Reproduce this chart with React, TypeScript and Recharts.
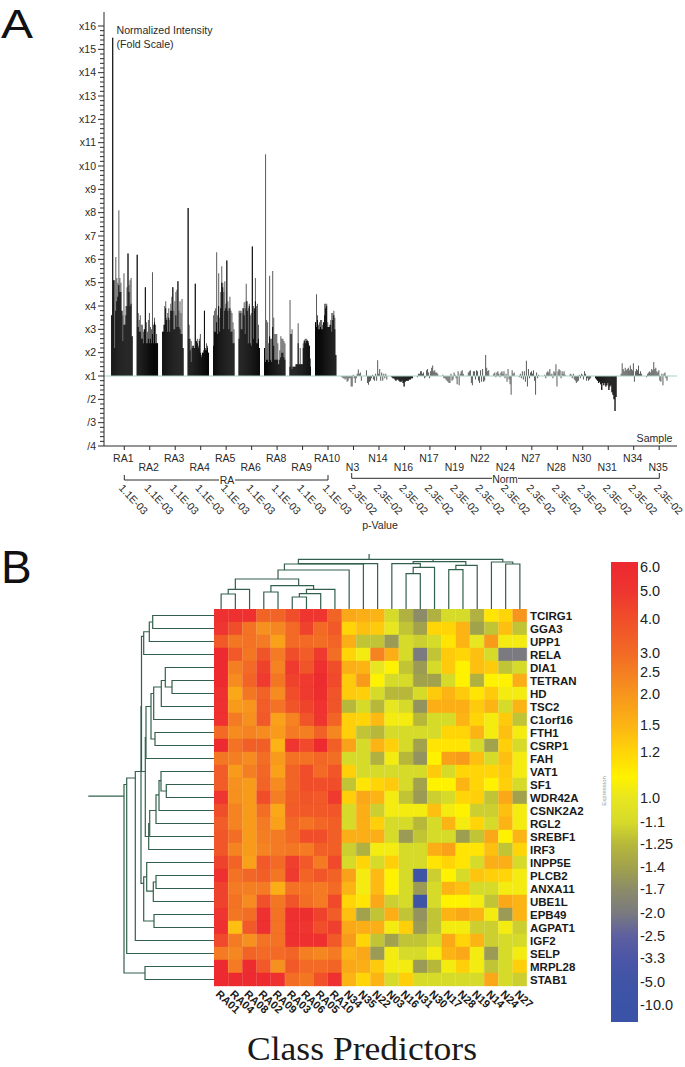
import React from 'react';
import {
  Bar,
  BarChart,
  Cell,
  ReferenceLine,
  Scatter,
  ScatterChart,
  XAxis,
  YAxis,
} from 'recharts';

// Panel A: fold change per sample, 21 probes each
const sampleLabels = ['RA1', 'RA2', 'RA3', 'RA4', 'RA5', 'RA6', 'RA8', 'RA9', 'RA10', 'N3', 'N14', 'N16', 'N17', 'N19', 'N22', 'N24', 'N27', 'N28', 'N30', 'N31', 'N34', 'N35'];
const samplePValues = ['1.1E-03', '1.1E-03', '1.1E-03', '1.1E-03', '1.1E-03', '1.1E-03', '1.1E-03', '1.1E-03', '1.1E-03', '2.3E-02', '2.3E-02', '2.3E-02', '2.3E-02', '2.3E-02', '2.3E-02', '2.3E-02', '2.3E-02', '2.3E-02', '2.3E-02', '2.3E-02', '2.3E-02', '2.3E-02'];
const heavySamples = ['N16', 'N31'];

// top of the black part of each RA bar
const solidLevels = [
  [3.6, 15.5, 5.1, 2.2, 3.8, 4.2, 4.4, 4.9, 4.6, 4.6, 3.8, 2.5, 3.2, 3.2, 3.6, 4.0, 6.25, 4.6, 4.0, 4.1, 2.7],
  [6.2, 3.1, 2.9, 2.9, 2.6, 2.6, 2.4, 3.0, 4.8, 2.4, 2.4, 2.6, 2.4, 2.6, 2.4, 2.8, 2.4, 3.3, 2.4, 2.4, 2.4],
  [2.9, 2.9, 3.2, 3.9, 3.4, 2.9, 3.5, 2.9, 3.8, 3.8, 4.8, 3.0, 3.0, 3.6, 3.1, 5.06, 3.1, 3.0, 2.8, 2.8, 2.2],
  [8.2, 2.6, 2.1, 1.6, 2.2, 2.3, 2.2, 4.95, 2.5, 2.4, 2.2, 2.5, 2.0, 1.8, 2.0, 2.0, 3.8, 2.1, 2.1, 2.2, 2.0],
  [2.3, 2.9, 2.9, 3.3, 2.8, 4.0, 2.9, 3.9, 5.0, 4.8, 3.0, 3.8, 3.9, 5.95, 3.8, 3.0, 3.9, 2.9, 2.9, 2.4, 2.4],
  [2.6, 3.7, 3.0, 3.0, 3.9, 3.6, 2.8, 4.2, 3.8, 2.4, 4.0, 2.4, 2.3, 6.55, 2.6, 3.9, 4.2, 2.4, 2.4, 2.6, 2.2],
  [2.2, 1.6, 1.7, 1.7, 1.6, 2.7, 1.7, 1.6, 3.1, 2.3, 1.7, 1.7, 1.7, 1.7, 1.5, 1.7, 1.8, 2.0, 2.0, 1.8, 1.7],
  [1.4, 2.8, 1.3, 1.4, 1.4, 1.4, 1.5, 1.5, 2.4, 1.5, 1.5, 1.5, 1.5, 2.2, 2.5, 2.4, 2.5, 2.5, 2.4, 2.3, 1.4],
  [3.3, 3.1, 3.4, 3.0, 3.0, 3.1, 3.0, 3.0, 3.3, 3.6, 3.9, 4.0, 3.1, 3.1, 3.1, 3.2, 2.9, 3.4, 3.6, 3.0, 1.9],
];

// full height of every bar, negative means "/n" below x1
const peakLevels = [
  [3.6, 15.5, 5.1, 5.1, 6.1, 5.2, 5.0, 8.1, 5.2, 5.0, 3.8, 3.6, 5.4, 3.2, 4.0, 4.8, 6.25, 4.9, 5.1, 5.2, 2.7],
  [6.2, 3.7, 3.4, 3.6, 3.2, 3.2, 2.9, 3.0, 4.8, 3.3, 2.9, 3.4, 3.7, 3.1, 3.0, 5.45, 3.2, 3.5, 3.2, 2.8, 2.4],
  [2.9, 3.2, 4.0, 4.2, 3.5, 3.7, 3.9, 3.4, 4.1, 4.4, 4.8, 3.8, 4.2, 4.6, 4.7, 5.06, 3.8, 4.2, 3.7, 4.3, 2.2],
  [8.2, 3.2, 2.6, 2.5, 2.3, 2.3, 2.2, 4.95, 2.5, 2.6, 2.3, 2.6, 2.8, 1.9, 2.0, 2.1, 3.8, 2.2, 2.4, 2.3, 2.0],
  [3.6, 3.8, 3.9, 6.3, 3.6, 5.4, 3.5, 4.6, 5.7, 5.0, 4.6, 5.06, 4.1, 5.95, 4.2, 3.9, 4.4, 3.8, 3.7, 3.3, 3.0],
  [3.8, 3.8, 3.8, 3.7, 3.9, 4.16, 3.9, 4.95, 4.2, 3.9, 4.1, 3.6, 3.7, 6.55, 4.0, 3.8, 5.2, 4.0, 4.1, 3.2, 2.2],
  [2.2, 10.5, 3.4, 3.3, 2.4, 5.3, 2.6, 2.6, 5.5, 3.5, 2.8, 2.8, 2.8, 2.4, 1.5, 2.1, 2.7, 2.6, 2.6, 2.5, 2.4],
  [4.26, 2.8, 3.0, 1.4, 1.4, 1.4, 1.5, 1.5, 3.26, 1.5, 2.2, 1.5, 1.5, 2.4, 2.55, 2.6, 2.6, 2.55, 2.5, 2.3, 1.75],
  [3.3, 4.5, 3.6, 3.2, 3.3, 3.4, 3.4, 3.2, 3.3, 4.1, 4.1, 4.1, 3.3, 3.1, 3.2, 3.4, 3.7, 3.7, 3.8, 3.5, 1.9],
  [1.0, -1.05, -1.1, -1.1, -1.15, -1.1, -1.25, -1.2, -1.1, -1.1, -1.45, -1.45, 1.05, -1.1, -1.3, -1.1, 1.1, 1.28, 1.1, 1.15, -1.2],
  [1.25, -1.3, -1.38, -1.25, -1.2, -1.1, 1.05, -1.15, -1.2, 1.1, -1.2, 1.67, 1.1, 1.3, -1.2, 1.15, -1.2, 1.1, -1.1, 1.1, -1.15],
  [-1.05, -1.1, -1.1, -1.15, -1.2, -1.15, -1.15, -1.2, -1.25, -1.25, -1.2, -1.3, -1.45, -1.25, -1.2, -1.2, -1.2, -1.15, -1.15, -1.1, -1.1],
  [-1.05, 1.1, 1.1, 1.2, 1.2, 1.1, 1.15, -1.1, -1.05, 1.25, 1.3, 1.15, -1.1, 1.2, 1.35, 1.45, 1.2, 1.25, 1.15, 1.15, 1.1],
  [1.05, -1.1, -1.1, -1.15, -1.2, -1.25, -1.3, -1.3, 1.1, -1.2, -1.15, 1.15, 1.05, -1.1, -1.35, 1.2, -1.4, 1.1, 1.2, 1.25, 1.1],
  [1.15, 1.2, 1.25, -1.3, -1.4, 1.2, 1.2, -1.15, 1.25, 1.2, -1.2, -1.3, 1.25, -1.25, 1.3, -1.25, -1.2, 1.9, 1.35, 1.2, 1.25],
  [1.1, 1.15, -1.05, 1.15, 1.2, 1.1, -1.05, 1.15, 1.2, 1.1, 1.2, -1.1, 1.1, -1.25, 1.3, -1.15, -1.35, -1.8, 1.25, 1.1, 1.15],
  [-1.05, 1.1, -1.1, 1.2, -1.15, 1.2, -1.25, 1.65, -1.45, 1.3, -1.1, 1.15, 1.2, 1.1, 1.25, -1.2, -1.8, 1.15, -1.1, 1.05, 1.0],
  [1.05, -1.1, 1.15, 1.2, 1.15, 1.3, 1.05, 1.1, -1.1, 1.2, 1.15, 1.5, -1.45, 1.2, 1.3, 1.25, -1.1, 1.2, 1.1, 1.2, 1.05],
  [1.1, 1.05, -1.1, 1.1, -1.15, -1.2, -1.3, -1.25, -1.2, 1.05, -1.1, 1.1, 1.05, -1.15, 1.2, 1.1, -1.2, -1.1, -1.2, -1.15, -1.1],
  [-1.1, -1.15, -1.2, -1.3, -1.25, -1.35, -1.6, -1.3, -1.4, -1.3, -1.45, -1.4, -1.3, -1.6, -1.45, -1.4, -1.7, -1.8, -2.0, -2.5, -1.9],
  [1.1, 1.55, 1.3, 1.2, 1.35, 1.25, 1.3, 1.35, 1.25, 1.45, 1.3, 1.25, 1.55, -1.25, 1.2, 1.3, 1.25, 1.45, 1.1, 1.2, 1.1],
  [-1.05, 1.1, 1.15, 1.2, 1.15, 1.3, 1.25, 1.6, 1.3, 1.35, 1.2, 1.15, 1.25, -1.2, -1.25, 1.1, -1.4, 1.1, 1.15, -1.1, -1.2],
];

// Panel B: heat map, one list per gene in column order
const geneLabels = ['TCIRG1', 'GGA3', 'UPP1', 'RELA', 'DIA1', 'TETRAN', 'HD', 'TSC2', 'C1orf16', 'FTH1', 'CSRP1', 'FAH', 'VAT1', 'SF1', 'WDR42A', 'CSNK2A2', 'RGL2', 'SREBF1', 'IRF3', 'INPP5E', 'PLCB2', 'ANXA11', 'UBE1L', 'EPB49', 'AGPAT1', 'IGF2', 'SELP', 'MRPL28', 'STAB1'];
const columnLabels = ['RA01', 'RA04', 'RA08', 'RA02', 'RA09', 'RA03', 'RA06', 'RA05', 'RA10', 'N34', 'N35', 'N22', 'N03', 'N16', 'N31', 'N30', 'N17', 'N28', 'N19', 'N14', 'N24', 'N27'];
const expression = [
  [5.5, 5.5, 5.5, 3.2, 3.2, 4, 5, 5, 3.2, 1.7, 1.6, 1.5, -1.1, -1.3, -1.7, -1.3, -1.1, -1.1, -1.3, 1.15, 1.2, 2.0],
  [5, 4, 2.8, 2.1, 2.3, 3, 4.5, 3, 3.6, 1.2, 1.4, 1.3, 1.0, -1.2, -1.4, 1.2, 1.2, 1.5, -1.4, -1.2, 1.4, -1.2],
  [3.6, 2.7, 2.8, 2.6, 1.8, 3, 3, 2.9, 3.2, 1.6, -1.2, -1.2, -1.5, -1.05, -1.15, -1.05, 1.15, 1.5, 1.0, 1.9, 1.05, 1.05],
  [6, 3.6, 2.7, 3.8, 2.6, 4, 3.5, 4.8, 2.9, 1.2, 1.05, 2.4, 1.6, -1.05, -2.0, -1.2, 1.3, 1.2, 1.4, -1.05, -2.0, -2.0],
  [6, 2.5, 3, 4.5, 2.4, 4.8, 3.8, 5.5, 4, 1.6, 1.5, 1.0, 1.1, -1.2, -1.5, -1.05, 1.3, 1.1, 1.4, 1.3, -1.2, -1.05],
  [6, 2.2, 3.2, 4.8, 2.7, 4.5, 4.8, 5.8, 4.2, 1.3, 1.9, 1.1, -1.05, -1.05, -1.4, -1.4, -1.05, 1.1, -1.3, 1.1, 1.1, 1.6],
  [5.5, 1.7, 2.7, 3.3, 2.2, 4, 4.8, 5.6, 3.8, 1.3, 1.25, -1.05, -1.25, -1.25, -1.05, 1.3, 1.5, 1.3, 1.15, 1.3, 1.05, 1.05],
  [5.5, 1.9, 2.0, 3.5, 2.8, 3.8, 4.4, 5.2, 3.8, -1.25, -1.05, -1.25, 1.0, -1.05, -1.6, 1.6, 1.6, 1.6, 1.3, 1.5, -1.05, 1.5],
  [5.5, 2.6, 2.1, 3.6, 1.8, 2.4, 3.8, 5, 3.2, 1.25, 1.2, 1.45, 1.05, 1.05, -1.25, -1.05, -1.05, 1.5, 1.2, 1.05, 1.3, -1.2],
  [3, 2.2, 2.4, 2.2, 1.9, 2.6, 2.5, 3.3, 2.3, 1.25, -1.2, -1.25, -1.05, -1.1, -1.1, -1.05, 1.2, 1.2, 1.5, 1.05, 1.4, 1.05],
  [6, 2.8, 3.4, 3.4, 1.5, 5, 4.2, 6, 3.4, 1.8, -1.05, 1.5, 1.25, -1.05, -1.4, 1.15, 1.15, 1.15, -1.05, -1.4, 1.25, -1.05],
  [2.7, 2.5, 2.2, 2.9, 1.9, 2.8, 2.8, 3.1, 2.9, -1.05, -1.05, -1.3, 1.05, -1.25, -1.6, 1.1, 1.8, 1.9, 1.4, -1.05, 1.4, 1.05],
  [3.5, 1.9, 2.5, 3.1, 1.8, 3.2, 4, 3, 3.7, 1.25, -1.05, -1.05, -1.05, -1.05, -1.05, 1.3, -1.05, 1.2, 1.2, 1.2, 1.3, 1.05],
  [3.5, 2.1, 1.9, 3.2, 2.2, 3.2, 4, 4, 4, -1.2, 1.15, 1.2, 1.3, -1.05, -1.4, 1.1, 1.1, 1.5, 1.2, 1.1, 1.25, -1.05],
  [5, 2.1, 1.9, 4, 2.5, 3.4, 3.8, 3.6, 4.8, 1.25, 1.7, 1.5, 1.05, -1.2, -1.5, -1.15, -1.05, 1.2, 1.25, -1.2, 1.7, -1.4],
  [4, 2.4, 1.9, 2.9, 1.7, 3.5, 3.6, 3.6, 3.7, -1.05, 1.6, -1.15, 1.05, 1.05, 1.05, 1.4, 1.05, 1.1, -1.15, -1.15, 1.4, 1.05],
  [3.5, 2.4, 1.9, 2.6, 1.8, 3.1, 2.8, 3.1, 3.4, -1.05, 1.6, 1.25, -1.05, -1.05, -1.25, -1.05, 1.5, 1.05, 1.2, -1.05, 1.5, 1.05],
  [3.7, 2.9, 1.9, 2.5, 2.6, 3, 4, 4, 3.4, 1.6, 1.6, 1.6, -1.05, -1.5, -1.2, -1.05, -1.05, -1.45, -1.2, 1.7, 1.1, 1.5],
  [3.7, 2.4, 1.9, 2.4, 2.6, 2.7, 2.6, 3.4, 3.4, -1.15, -1.3, 1.05, 1.05, -1.1, -1.1, 1.6, 1.8, 1.15, 1.15, 1.4, -1.2, 1.2],
  [4.5, 3.2, 1.8, 3.6, 3, 4.6, 3.6, 2.6, 4.2, -1.1, 1.2, -1.1, 1.25, -1.05, -1.05, 1.15, 1.2, 1.15, -1.1, 1.6, 1.6, -1.1],
  [5.5, 2.8, 3.1, 3.4, 2.7, 4.8, 3.2, 3.7, 3.3, 1.8, 1.05, 1.45, 1.1, -1.1, -5, -1.15, 1.1, -1.1, 1.35, 1.25, 1.2, 1.05],
  [4.5, 2.6, 2.5, 2.6, 1.6, 2.8, 2.8, 2.6, 3, 1.5, 1.05, 1.45, 1.1, -1.1, -1.5, -1.05, 1.5, 1.4, -1.05, -1.05, 1.05, 1.05],
  [4.5, 2.8, 2.2, 3.9, 2.7, 3.8, 2.9, 2.6, 4.2, 1.2, 1.15, 1.7, -1.15, -1.05, -5, -1.05, 1.1, 1.1, 1.05, -1.2, 1.7, 1.5],
  [5, 2.7, 2.9, 5.5, 2.8, 5.5, 5.6, 4.5, 3.5, 1.4, -1.4, -1.2, 1.6, -1.2, -1.6, -1.2, 1.5, 1.7, 1.5, 1.05, -1.5, 1.5],
  [5.5, 1.4, 3.6, 5.5, 2.8, 5.5, 5, 4, 4.6, 1.7, 1.6, 1.6, 1.05, 1.25, -1.5, -1.2, 1.05, 1.05, -1.15, -1.15, 1.05, -1.15],
  [4.2, 2.6, 2.1, 2.8, 2.8, 5.5, 5.5, 5.5, 3.6, 1.9, 1.2, -1.2, -1.4, -1.2, -1.2, -1.05, 1.7, 1.2, 1.5, -1.15, -1.05, -1.05],
  [2.6, 2.3, 3.2, 3, 3, 3.2, 2.5, 2.3, 2.6, 1.5, 1.7, -1.5, 1.05, -1.05, -1.05, 1.05, 1.5, 1.7, 1.05, -1.5, -1.05, 1.05],
  [6, 2.6, 5.8, 3.6, 2.1, 3.6, 3, 3, 3.2, 1.7, 1.6, 1.3, 1.05, 1.05, -1.5, -1.25, 1.05, 1.25, 1.05, -1.2, -1.05, 1.25],
  [6, 6, 6, 6, 5.5, 2.9, 2.7, 3.9, 5.5, 1.5, 1.2, 1.5, -1.1, 1.25, -1.1, -1.1, -1.1, -1.1, -1.1, 1.7, -1.05, -1.15],
];

// Colour key
const legendLabels = ['6.0', '5.0', '4.0', '3.0', '2.5', '2.0', '1.5', '1.2', '1.0', '-1.1', '-1.25', '-1.4', '-1.7', '-2.0', '-2.5', '-3.3', '-5.0', '-10.0'];
const legendValues = [6, 5, 4, 3, 2.5, 2, 1.5, 1.2, 1, -1.1, -1.25, -1.4, -1.7, -2, -2.5, -3.3, -5, -10];
const legendOffsets = [5, 29, 57, 91, 110, 132, 163, 190, 236, 260, 282, 305, 327, 351, 374, 396, 420, 443];
const legendColors = ['#ed2a2f', '#ee3530', '#f04e2a', '#f26a25', '#f47e22', '#f7951d', '#fcb414', '#ffd508', '#e8e620', '#d6db2a', '#b7b83a', '#a2a24c', '#8c8c68', '#7a7a80', '#5d5fa0', '#4c56a6', '#4054a6', '#3b53a6'];

// dendrogram merges: [posA, heightA, posB, heightB, mergeHeight]
const columnMerges = [
  [0, 0, 1, 0, 15], [0.5, 15, 2, 0, 19.7], [3, 0, 4, 0, 17], [5, 0, 6, 0, 12], [5.5, 12, 7, 0, 15.3],
  [6, 15.3, 8, 0, 19.7], [3.5, 17, 6.5, 19.7, 23.3], [1, 19.7, 5.45, 23.3, 30], [4, 30, 9, 0, 39],
  [4.45, 39, 10, 0, 45], [5.43, 45, 11, 0, 45.3], [13, 0, 14, 0, 35.3], [13.5, 35.3, 15, 0, 41.7],
  [12, 0, 14, 41.7, 45.3], [16, 0, 17, 0, 39.3], [16.5, 39.3, 18, 0, 43.7], [13.5, 45.3, 17.2, 43.7, 47.3],
  [20, 0, 21, 0, 45], [19, 0, 20.5, 45, 47], [5.43, 45.3, 19.8, 47, 49.7], [14.9, 47.3, 14.9, 47.3, 49.7],
  [10.4, 49.7, 10.4, 49.7, 55],
];
const rowMerges = [
  [0, 0, 1, 0, 61.3], [0.5, 61.3, 2, 0, 64.7], [1.25, 64.7, 3, 0, 70.3], [5, 0, 6, 0, 42], [4, 0, 5.5, 42, 48.7],
  [5, 48.7, 7, 0, 52.7], [5.5, 52.7, 8, 0, 60.3], [9, 0, 10, 0, 59], [6, 60.3, 9.5, 59, 63], [7, 63, 11, 0, 68],
  [13, 0, 14, 0, 47.7], [12, 0, 13.5, 47.7, 53], [12.7, 53, 15, 0, 55], [13.8, 55, 16, 0, 58], [15, 58, 17, 0, 64.3],
  [16, 64.3, 18, 0, 65.3], [9.4, 68, 17, 65.3, 68.7], [1.6, 70.3, 12, 68.7, 72.5], [20, 0, 21, 0, 58],
  [20.5, 58, 22, 0, 60.7], [19, 0, 21.2, 60.7, 67.3], [23, 0, 24, 0, 60], [20.1, 67.3, 23.5, 60, 70.3],
  [7, 72.5, 20.6, 70.3, 73], [12, 73, 25, 0, 78.7], [12.5, 78.7, 26, 0, 87.3], [27, 0, 28, 0, 69],
  [13, 87.3, 27.5, 69, 90], [13.9, 90, 13.9, 90, 125.7],
];

const SLOTS_PER_SAMPLE = 25;
const TICK_SLOT = 12.3;
const SLOT_DOMAIN = [-7.6, 554.8];
const FONT = '"Liberation Sans", Arial, sans-serif';
const INK = '#2a2a2a';
const TREE = '#33604c';

// x1 sits at 0, x2 at 1, /2 at -1 so the axis stays linear
const foldToAxis = (f: number) => (f >= 1 ? f - 1 : f + 1);

const barRows = peakLevels.flatMap((peaks, k) =>
  peaks.map((peak, j) => {
    const top = foldToAxis(peak);
    let solid = 0;
    if (k < solidLevels.length) solid = foldToAxis(solidLevels[k][j]);
    else if (heavySamples.includes(sampleLabels[k])) solid = top;
    return { slot: k * SLOTS_PER_SAMPLE + j, solid, top };
  }),
);

const sampleTicks = sampleLabels.map((_, k) => k * SLOTS_PER_SAMPLE + TICK_SLOT);
const foldTicks: number[] = [];
for (let i = -15; i <= 75; i++) foldTicks.push(i / 5);

function FoldTick({ x, y, payload }: any) {
  const v = payload.value;
  const major = Number.isInteger(v);
  const label = v >= 0 ? `x${v + 1}` : `/${1 - v}`;
  return (
    <g>
      <line x1={x} x2={x - (major ? 6 : 4)} y1={y} y2={y} stroke={INK} strokeWidth={1} />
      {major && (
        <text x={x - 8} y={y + 3.5} textAnchor="end" fontSize={10.5} fill={INK} fontFamily={FONT}>
          {label}
        </text>
      )}
    </g>
  );
}

function SampleTick({ x, y, payload }: any) {
  const k = Math.round((payload.value - TICK_SLOT) / SLOTS_PER_SAMPLE);
  const rowY = k % 2 === 0 ? 16 : 25;
  return (
    <g fontFamily={FONT} fill={INK} fontSize={10.5}>
      <line x1={x} x2={x} y1={y} y2={y + 4} stroke={INK} />
      <text x={x - 1} y={y + rowY} textAnchor="middle">
        {sampleLabels[k]}
      </text>
      <text x={x - 6} y={y + 42.5} transform={`rotate(47 ${x - 6} ${y + 42.5})`}>
        {samplePValues[k]}
      </text>
    </g>
  );
}

function FoldPanel() {
  return (
    <BarChart
      width={685}
      height={530}
      data={barRows}
      margin={{ top: 12, right: 8, bottom: 0, left: 0 }}
    >
      <XAxis
        type="number"
        dataKey="slot"
        domain={SLOT_DOMAIN}
        ticks={sampleTicks}
        interval={0}
        height={84}
        tickSize={0}
        tickMargin={0}
        tickLine={false}
        tick={SampleTick}
        axisLine={{ stroke: INK }}
        allowDataOverflow
      />
      {/* hidden twin axis so the thin spikes and the wider black bars share a slot */}
      <XAxis xAxisId="spikes" type="number" dataKey="slot" domain={SLOT_DOMAIN} height={84} hide allowDataOverflow />
      <YAxis
        type="number"
        domain={[-3, 15.6]}
        ticks={foldTicks}
        interval={0}
        width={104}
        tickSize={0}
        tickMargin={0}
        tickLine={false}
        tick={FoldTick}
        axisLine={{ stroke: INK }}
        allowDataOverflow
      />
      <ReferenceLine y={0} stroke="#a9cfc9" strokeWidth={1} />
      <Bar xAxisId="spikes" dataKey="top" fill="#5a5a5a" barSize={1} isAnimationActive={false} />
      <Bar dataKey="solid" fill="#000000" barSize={2.4} isAnimationActive={false} />
    </BarChart>
  );
}

const mergePath = ([a, ha, b, hb, h]: number[]) => [
  { pos: a, height: ha },
  { pos: a, height: h },
  { pos: b, height: h },
  { pos: b, height: hb },
];

function ColumnTree() {
  return (
    <ScatterChart width={313} height={56} margin={{ top: 0, right: 0, bottom: 0, left: 0 }}>
      <XAxis type="number" dataKey="pos" domain={[-0.5, 21.5]} hide />
      <YAxis type="number" dataKey="height" domain={[0, 56]} hide />
      {columnMerges.map((m, i) => (
        <Scatter
          key={i}
          data={mergePath(m)}
          line={{ stroke: TREE, strokeWidth: 1.2 }}
          shape={() => <g />}
          isAnimationActive={false}
        />
      ))}
    </ScatterChart>
  );
}

function RowTree() {
  return (
    <ScatterChart width={127} height={377} margin={{ top: 0, right: 0, bottom: 0, left: 0 }}>
      <XAxis type="number" dataKey="height" domain={[0, 127]} reversed hide />
      <YAxis type="number" dataKey="pos" domain={[-0.5, 28.5]} reversed hide />
      {rowMerges.map((m, i) => (
        <Scatter
          key={i}
          data={mergePath(m)}
          line={{ stroke: TREE, strokeWidth: 1.2 }}
          shape={() => <g />}
          isAnimationActive={false}
        />
      ))}
    </ScatterChart>
  );
}

// piecewise colour lookup on the key's stops
function heatColor(value: number) {
  const stops = legendValues.map((v, i) => ({ v, c: legendColors[i] }));
  stops.splice(8, 0, { v: 1.1, c: '#fff200' });
  for (let i = 0; i < stops.length - 1; i++) {
    const hi = stops[i];
    const lo = stops[i + 1];
    if (value <= hi.v && value >= lo.v) {
      const t = (value - lo.v) / (hi.v - lo.v);
      const mix = (s: number) => {
        const a = parseInt(lo.c.slice(s, s + 2), 16);
        const b = parseInt(hi.c.slice(s, s + 2), 16);
        return Math.round(a + (b - a) * t);
      };
      return `rgb(${mix(1)},${mix(3)},${mix(5)})`;
    }
  }
  return legendColors[0];
}

const heatRows = columnLabels.map((col) => {
  const row: Record<string, number | string> = { col };
  geneLabels.forEach((g) => {
    row[g] = 1;
  });
  return row;
});
const geneTicks = geneLabels.map((_, i) => i + 0.5);

function ColumnTick({ x, y, payload }: any) {
  return (
    <text
      x={x - 6}
      y={y + 9}
      transform={`rotate(43 ${x - 6} ${y + 9})`}
      fontSize={11}
      fontWeight="bold"
      fill="#1a1a1a"
      fontFamily={FONT}
    >
      {payload.value}
    </text>
  );
}

function HeatPanel() {
  return (
    <BarChart
      width={471}
      height={427}
      data={heatRows}
      barCategoryGap={0}
      margin={{ top: 0, right: 0, bottom: 0, left: 0 }}
    >
      <XAxis
        dataKey="col"
        interval={0}
        height={50}
        tickSize={0}
        tickMargin={0}
        tickLine={false}
        axisLine={false}
        tick={ColumnTick}
      />
      <YAxis
        type="number"
        orientation="right"
        domain={[0, 29]}
        reversed
        ticks={geneTicks}
        interval={0}
        width={158}
        tickLine={false}
        axisLine={false}
        tickSize={0}
        tickMargin={3}
        tickFormatter={(v: number) => geneLabels[Math.floor(v)]}
        tick={{ fontSize: 11.5, fontWeight: 'bold', fill: '#1a1a1a', fontFamily: FONT }}
      />
      {geneLabels.map((gene, r) => (
        <Bar key={gene} dataKey={gene} stackId="heat" isAnimationActive={false}>
          {columnLabels.map((col, c) => {
            const fill = heatColor(expression[r][c]);
            return <Cell key={col} fill={fill} stroke={fill} strokeWidth={0.4} />;
          })}
        </Bar>
      ))}
    </BarChart>
  );
}

function ColourKey() {
  return (
    <BarChart
      width={74}
      height={468}
      data={[{ name: 'Expression', span: 460 }]}
      barCategoryGap={0}
      margin={{ top: 8, right: 0, bottom: 0, left: 0 }}
    >
      <defs>
        <linearGradient id="expressionRamp" x1="0" y1="0" x2="0" y2="1">
          {legendOffsets.map((o, i) => (
            <React.Fragment key={o}>
              <stop offset={o / 460} stopColor={legendColors[i]} />
              {legendValues[i] === 1.2 && <stop offset={215 / 460} stopColor="#fff200" />}
            </React.Fragment>
          ))}
        </linearGradient>
      </defs>
      <XAxis dataKey="name" hide />
      <YAxis
        type="number"
        orientation="right"
        domain={[0, 460]}
        reversed
        ticks={legendOffsets}
        interval={0}
        width={47}
        tickLine={false}
        axisLine={false}
        tickSize={0}
        tickMargin={2}
        tickFormatter={(v: number) => legendLabels[legendOffsets.indexOf(v)]}
        tick={{ fontSize: 14.5, fill: '#222', fontFamily: FONT }}
      />
      <Bar dataKey="span" fill="url(#expressionRamp)" isAnimationActive={false} />
    </BarChart>
  );
}

const place = (left: number, top: number): React.CSSProperties => ({ position: 'absolute', left, top });

function Notes() {
  return (
    <svg width={685} height={1067} style={{ ...place(0, 0), pointerEvents: 'none' }}>
      <g fontFamily={FONT} fill="#111">
        <text x={1} y={37.5} fontSize={41} textLength={32} lengthAdjust="spacingAndGlyphs">A</text>
        <text x={1} y={583} fontSize={46}>B</text>
      </g>
      <g fontFamily={FONT} fill={INK} fontSize={10.6}>
        <text x={116.5} y={34}>Normalized Intensity</text>
        <text x={116.5} y={48}>(Fold Scale)</text>
        <text x={672.5} y={442} textAnchor="end">Sample</text>
        <text x={380} y={528.5} textAnchor="middle">p-Value</text>
      </g>
      <path d="M124.3 475V480H219M235 480H328V475" fill="none" stroke={INK} strokeWidth={1} />
      <path d="M351.7 473V478.3H492M518 478.3H659.3V473" fill="none" stroke={INK} strokeWidth={1} />
      <g fontFamily={FONT} fill={INK} fontSize={10.5} textAnchor="middle">
        <text x={227} y={484}>RA</text>
        <text x={505} y={483}>Norm</text>
      </g>
      <text x={606} y={791} fontSize={6} fill="#999" fontFamily={FONT} textAnchor="middle" transform="rotate(-90 606 791)">
        Expression
      </text>
      <text x={247} y={1059.5} fontSize={33} textLength={230} lengthAdjust="spacingAndGlyphs" fill="#1a1a1a" fontFamily='"Liberation Serif", "Times New Roman", serif'>
        Class Predictors
      </text>
    </svg>
  );
}

export default function App() {
  return (
    <div style={{ position: 'absolute', left: 0, top: 0, width: 685, height: 1067, background: '#fff', fontFamily: FONT }}>
      <div style={place(0, 0)}><FoldPanel /></div>
      <div style={place(214, 553)}><ColumnTree /></div>
      <div style={place(87, 609)}><RowTree /></div>
      <div style={place(214, 609)}><HeatPanel /></div>
      <div style={place(611, 554)}><ColourKey /></div>
      <Notes />
    </div>
  );
}
